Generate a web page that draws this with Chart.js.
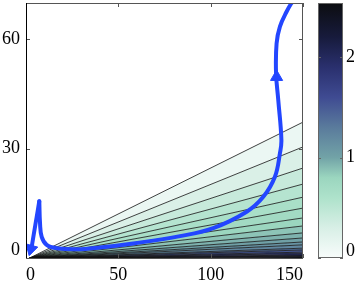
<!DOCTYPE html>
<html>
<head>
<meta charset="utf-8">
<script src="https://cdn.jsdelivr.net/npm/chart.js@4.4.0/dist/chart.umd.min.js"></script>
<style>
html, body { margin: 0; padding: 0; background: #fff; }
#wrap { position: relative; width: 360px; height: 286px; }
#wrap canvas { position: absolute; left: 0; top: 0; }
</style>
</head>
<body>
<div id="wrap">
<canvas id="main" width="360" height="286"></canvas>
<canvas id="cbar" width="360" height="286"></canvas>
</div>
<script>
const xTicks = [0, 50, 100, 150];
const yTicks = [0, 30, 60];
const cbarTicks = [0, 1, 2];

// contour lines: fan from a common point out to the right edge
const fanStart = [2, 0];
const fanEndX = 150;
const fanEndY = [37.3, 30.5, 24.7, 20.3, 16.7, 13.7, 11.0, 8.8, 6.9, 5.5, 4.4, 3.6, 2.7, 2.2, 1.6, 1.2, 0.8, 0.5, 0.3];
const bandLevel = [0.12, 0.28, 0.42, 0.55, 0.65, 0.73, 0.8, 0.87, 0.94, 1.02, 1.12, 1.22, 1.37, 1.52, 1.68, 1.85, 2.02, 2.22, 2.45];

// trajectories
const pathAX = [7.2, 5.8, 4.3, 3.1];
const pathAY = [15.6, 11.3, 6.8, 3.1];
const pathBX = [7.2, 7.6, 8.5, 11.2, 16.6, 27.4, 40.1, 58.1, 83.4, 101.4, 119.5, 128.5, 134.8, 137.5, 138.3, 136.6, 135.4, 135.7, 137.5, 141.1, 144.7];
const pathBY = [15.6, 9.5, 5.8, 3.6, 2.7, 2.4, 2.9, 4.0, 6.0, 8.2, 12.7, 16.8, 22.3, 28.7, 32.4, 43.4, 50.8, 58.9, 63.5, 67.6, 70.8];
const arrowX = [2.7, 135.7];
const arrowY = [2.5, 49.7];
const arrowRot = [195, 0];

// colour map
const cmapMax = 2.54;
const cmapAt = [0, 0.3, 0.6, 0.8, 1.0, 1.3, 1.6, 1.9, 2.2, 2.54];
const cmapHex = ['#f8fcfb', '#d8efe6', '#aee2cb', '#9bd6bf', '#72a3a7', '#5a7b9c', '#3f4b92', '#2a306e', '#171b3c', '#0c0d10'];

function hexRgb(h) {
    return [1, 3, 5].map(i => parseInt(h.slice(i, i + 2), 16));
}
function cmap(v) {
    for (let i = 1; i < cmapAt.length; i++) {
        if (v <= cmapAt[i]) {
            let t = (v - cmapAt[i - 1]) / (cmapAt[i] - cmapAt[i - 1]);
            let a = hexRgb(cmapHex[i - 1]), b = hexRgb(cmapHex[i]);
            return 'rgb(' + a.map((c, k) => Math.round(c + (b[k] - c) * t)).join(',') + ')';
        }
    }
    return cmapHex[cmapHex.length - 1];
}

const xFont = { family: 'Liberation Serif', size: 18, lineHeight: 1 };
const yFont = { family: 'Liberation Serif', size: 18, lineHeight: 0.85 };
const cFont = { family: 'Liberation Serif', size: 18, lineHeight: 0.7 };
const blue = '#2346ff';

function noPad(s) {
    s.paddingTop = 0; s.paddingBottom = 0; s.paddingLeft = 0; s.paddingRight = 0;
}

// draws the box and small inward tick marks
const framePlugin = {
    id: 'frame',
    afterDraw(chart) {
        let ctx = chart.ctx, a = chart.chartArea;
        let xs = chart.scales.x, ys = chart.scales.y;
        ctx.save();
        ctx.strokeStyle = '#555';
        ctx.lineWidth = 1;
        ctx.strokeRect(a.left + 0.5, a.top + 0.5, a.right - a.left - 1, a.bottom - a.top);
        ctx.beginPath();
        xTicks.forEach(v => {
            let px = Math.round(xs.getPixelForValue(v)) + 0.5;
            ctx.moveTo(px, a.top); ctx.lineTo(px, a.top + 4);
            ctx.moveTo(px, a.bottom); ctx.lineTo(px, a.bottom - 4);
        });
        yTicks.forEach(v => {
            let py = Math.round(ys.getPixelForValue(v)) + 0.5;
            ctx.moveTo(a.left, py); ctx.lineTo(a.left + 4, py);
            ctx.moveTo(a.right, py); ctx.lineTo(a.right - 4, py);
        });
        ctx.stroke();
        ctx.strokeStyle = '#000';
        ctx.beginPath();
        ctx.moveTo(a.left + 0.5, a.top); ctx.lineTo(a.left + 0.5, a.bottom);
        ctx.stroke();
        ctx.restore();
    }
};

let datasets = [];
datasets.push({
    data: arrowX.map((x, i) => ({ x: x, y: arrowY[i] })),
    showLine: false,
    pointStyle: 'triangle',
    rotation: arrowRot,
    pointRadius: 7,
    pointBackgroundColor: blue,
    pointBorderColor: blue,
    pointBorderWidth: 1
});
datasets.push({
    data: pathAX.map((x, i) => ({ x: x, y: pathAY[i] })),
    showLine: true,
    borderColor: blue,
    borderWidth: 4,
    tension: 0.3,
    pointRadius: 0,
    borderCapStyle: 'round'
});
datasets.push({
    data: pathBX.map((x, i) => ({ x: x, y: pathBY[i] })),
    showLine: true,
    borderColor: blue,
    borderWidth: 4,
    tension: 0.4,
    pointRadius: 0,
    borderCapStyle: 'round'
});
fanEndY.forEach((yEnd, i) => {
    datasets.push({
        data: [{ x: fanStart[0], y: fanStart[1] }, { x: fanEndX, y: yEnd }],
        showLine: true,
        borderColor: '#111',
        borderWidth: 0.8,
        pointRadius: 0,
        backgroundColor: cmap(bandLevel[i]),
        fill: i < fanEndY.length - 1 ? '+1' : 'start'
    });
});

new Chart(document.getElementById('main'), {
    type: 'scatter',
    data: { datasets: datasets },
    options: {
        responsive: false,
        animation: false,
        events: [],
        layout: { autoPadding: false, padding: { left: 0, top: 3, right: 57, bottom: 0 } },
        plugins: {
            legend: { display: false },
            tooltip: { enabled: false },
            filler: { drawTime: 'beforeDatasetsDraw' }
        },
        scales: {
            x: {
                type: 'linear',
                min: 0,
                max: 150,
                afterBuildTicks: s => { s.ticks = xTicks.map(v => ({ value: v })); },
                afterFit: s => { s.height = 28; noPad(s); },
                grid: { display: false, drawTicks: false },
                border: { display: false },
                ticks: { align: 'inner', padding: 8, color: '#000', font: xFont, maxRotation: 0, autoSkip: false }
            },
            y: {
                type: 'linear',
                min: 0,
                max: 70,
                afterBuildTicks: s => { s.ticks = yTicks.map(v => ({ value: v })); },
                afterFit: s => { s.width = 26; noPad(s); },
                grid: { display: false, drawTicks: false },
                border: { display: false },
                ticks: {
                    padding: 6, color: '#000', font: yFont,
                    callback: v => v === 0 ? ['0', ''] : String(v)
                }
            }
        }
    },
    plugins: [framePlugin]
});

// colour bar
const cbarPlugin = {
    id: 'cbarFill',
    beforeDraw(chart) {
        let ctx = chart.ctx, a = chart.chartArea, ys = chart.scales.y;
        let g = ctx.createLinearGradient(0, ys.getPixelForValue(0), 0, ys.getPixelForValue(cmapMax));
        cmapAt.forEach((v, i) => g.addColorStop(v / cmapMax, cmapHex[i]));
        ctx.save();
        ctx.fillStyle = g;
        ctx.fillRect(a.left, a.top, a.right - a.left, a.bottom - a.top);
        ctx.restore();
    },
    afterDraw(chart) {
        let ctx = chart.ctx, a = chart.chartArea, ys = chart.scales.y;
        ctx.save();
        ctx.strokeStyle = '#666';
        ctx.lineWidth = 1;
        ctx.strokeRect(a.left + 0.5, a.top + 0.5, a.right - a.left - 1, a.bottom - a.top - 1);
        ctx.beginPath();
        cbarTicks.forEach(v => {
            let py = Math.round(ys.getPixelForValue(v)) + 0.5;
            ctx.moveTo(a.left, py); ctx.lineTo(a.left + 3, py);
            ctx.moveTo(a.right, py); ctx.lineTo(a.right - 3, py);
        });
        ctx.stroke();
        ctx.restore();
    }
};

new Chart(document.getElementById('cbar'), {
    type: 'scatter',
    data: { datasets: [] },
    options: {
        responsive: false,
        animation: false,
        events: [],
        layout: { autoPadding: false, padding: { left: 318, top: 3, right: 0, bottom: 28 } },
        plugins: { legend: { display: false }, tooltip: { enabled: false } },
        scales: {
            x: { display: false, min: 0, max: 1 },
            y: {
                position: 'right',
                min: 0,
                max: cmapMax,
                afterBuildTicks: s => { s.ticks = cbarTicks.map(v => ({ value: v })); },
                afterFit: s => { s.width = 17; noPad(s); },
                grid: { display: false, drawTicks: false },
                border: { display: false },
                ticks: {
                    padding: 3, color: '#000', font: cFont,
                    callback: v => v === 0 ? ['0', ''] : String(v)
                }
            }
        }
    },
    plugins: [cbarPlugin]
});
</script>
</body>
</html>
